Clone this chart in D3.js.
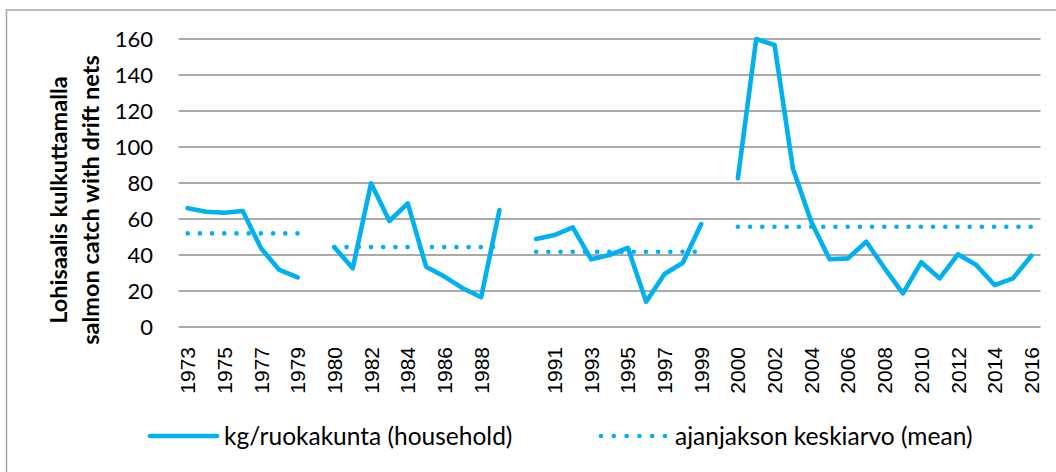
<!DOCTYPE html>
<html>
<head>
<meta charset="utf-8">
<script src="https://cdn.jsdelivr.net/npm/d3@7"></script>
<style>
  body { margin: 0; background: #fff; }
  svg { display: block; }
</style>
</head>
<body>
<div id="chart"></div>
<script>
// categories, blanks ('') are the gaps between periods
let years = [
	'1973', '1974', '1975', '1976', '1977', '1978', '1979', '',
	'1980', '1981', '1982', '1983', '1984', '1985', '1986', '1987', '1988', '1989', '',
	'1990', '1991', '1992', '1993', '1994', '1995', '1996', '1997', '1998', '1999', '',
	'2000', '2001', '2002', '2003', '2004', '2005', '2006', '2007', '2008',
	'2009', '2010', '2011', '2012', '2013', '2014', '2015', '2016'
]

// kg/ruokakunta (household), null = no value
let catch1 = [66, 64, 63.5, 64.4, 43.7, 31.7, 27.6, null]
let catch2 = [44.3, 32.6, 79.8, 58.9, 68.7, 33.5, 28, 21.5, 16.5, 65, null]
let catch3 = [48.9, 51.1, 55.4, 37.6, 40, 44, 14, 29.4, 35.7, 57.2, null]
let catch4 = [82.6, 160, 156.7, 88.1, 58.5, 37.6, 38.1, 47.4, 32.6, 18.7, 36,
	27, 40.4, 34.4, 23.3, 27, 39.6]
let household = [].concat(catch1, catch2, catch3, catch4)

// ajanjakson keskiarvo (mean) per period
let periodMeans = [52, 44.4, 41.8, 55.7]

let yTicks = [0, 20, 40, 60, 80, 100, 120, 140, 160]
let legendLabels = ['kg/ruokakunta (household)', 'ajanjakson keskiarvo (mean)']
let yTitle = ['Lohisaalis kulkuttamalla', 'salmon catch with drift nets']

let W = 1056
let H = 472
let blue = '#00b0f0'
let lineW = 4.6

// mean series: same value through each period, broken at the gaps
let meanSeries = []
let period = 0
years.forEach((y, i) => {
	if (y === '') {
		meanSeries.push(null)
		period++
	} else {
		meanSeries.push(periodMeans[period])
	}
})

let svg = d3
	.select('#chart')
	.append('svg:svg')
	.attr('width', W)
	.attr('height', H)

svg.append('rect')
	.attr('width', W)
	.attr('height', H)
	.attr('fill', '#fff')

// chart frame (runs off the right and bottom edges)
svg.append('rect')
	.attr('x', 6.5)
	.attr('y', 10)
	.attr('width', W + 20)
	.attr('height', H + 20)
	.attr('fill', 'none')
	.attr('stroke', '#a6a6a6')
	.attr('stroke-width', 1.5)

let x = d3
	.scaleBand()
	.domain(years.map((d, i) => i))
	.range([178.5, 1040.5])

let y = d3.scaleLinear().domain([0, 160]).range([327, 39])

// gridlines
svg.append('g')
	.selectAll('line')
	.data(yTicks)
	.join('line')
	.attr('x1', x.range()[0])
	.attr('x2', x.range()[1])
	.attr('y1', d => y(d))
	.attr('y2', d => y(d))
	.attr('stroke', '#8e8e8e')
	.attr('stroke-width', 1.6)

// y axis labels
let yAxis = d3.axisLeft(y).tickValues(yTicks).tickSize(0).tickPadding(0)
svg.append('g')
	.attr('transform', 'translate(153,0)')
	.call(yAxis)
	.call(g => g.select('.domain').remove())
	.selectAll('text')
	.attr('font-family', 'Lato, sans-serif')
	.attr('font-size', 22)
	.attr('fill', '#000')

// x axis labels, every other category
let xAxis = d3
	.axisBottom(x)
	.tickValues(x.domain().filter(i => i % 2 === 0))
	.tickFormat(i => years[i])
	.tickSize(0)
	.tickPadding(0)
svg.append('g')
	.attr('transform', `translate(0,${y(0)})`)
	.call(xAxis)
	.call(g => g.select('.domain').remove())
	.selectAll('text')
	.attr('font-family', '"Liberation Sans", Arial, sans-serif')
	.attr('font-size', 21)
	.attr('fill', '#000')
	.attr('text-anchor', 'end')
	.attr('transform', 'translate(0,20) rotate(-90)')
	.attr('x', 0)
	.attr('y', 0)
	.attr('dy', '0.36em')

let cx = i => x(i) + x.bandwidth() / 2

let line = d3
	.line()
	.defined(d => d != null)
	.x((d, i) => cx(i))
	.y(d => y(d))

svg.append('path')
	.datum(meanSeries)
	.attr('d', line)
	.attr('fill', 'none')
	.attr('stroke', blue)
	.attr('stroke-width', lineW)
	.attr('stroke-linecap', 'round')
	.attr('stroke-dasharray', '0 12.2')

svg.append('path')
	.datum(household)
	.attr('d', line)
	.attr('fill', 'none')
	.attr('stroke', blue)
	.attr('stroke-width', lineW)
	.attr('stroke-linecap', 'round')
	.attr('stroke-linejoin', 'round')

// y axis title
let title = svg.append('text')
	.attr('transform', 'translate(0,200) rotate(-90)')
	.attr('text-anchor', 'middle')
	.attr('font-family', 'Lato, sans-serif')
	.attr('font-weight', 'bold')
	.attr('font-size', 23.5)
	.attr('fill', '#000')
title.selectAll('tspan')
	.data(yTitle)
	.join('tspan')
	.attr('x', 0)
	.attr('y', (d, i) => 67 + i * 32)
	.text(d => d)

// legend
let legend = svg.append('g')
legend.append('line')
	.attr('x1', 150)
	.attr('x2', 217)
	.attr('y1', 436)
	.attr('y2', 436)
	.attr('stroke', blue)
	.attr('stroke-width', lineW)
	.attr('stroke-linecap', 'round')
legend.append('line')
	.attr('x1', 601)
	.attr('x2', 666)
	.attr('y1', 436)
	.attr('y2', 436)
	.attr('stroke', blue)
	.attr('stroke-width', lineW)
	.attr('stroke-linecap', 'round')
	.attr('stroke-dasharray', '0 12.8')
legend.selectAll('text')
	.data(legendLabels)
	.join('text')
	.attr('x', (d, i) => (i === 0 ? 224 : 675))
	.attr('y', 436)
	.attr('dy', '0.35em')
	.attr('font-family', 'Lato, sans-serif')
	.attr('font-size', 24.5)
	.attr('fill', '#000')
	.text(d => d)
</script>
</body>
</html>
